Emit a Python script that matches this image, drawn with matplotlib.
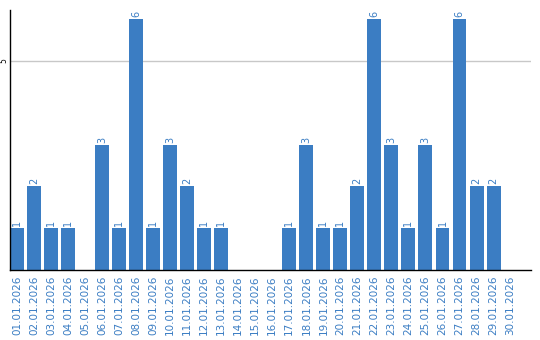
import numpy as np
import matplotlib.pyplot as plt

dates = ['%02d.01.2026' % d for d in range(1, 31)]
counts = [1, 2, 1, 1, 0, 3, 1, 6, 1, 3, 2, 1, 1, 0, 0,
          0, 1, 3, 1, 1, 2, 6, 3, 1, 3, 1, 6, 2, 2, 0]

blue = '#3b7dc3'

fig = plt.figure(figsize=(5.4, 3.4), dpi=100)
ax = fig.add_axes([10 / 540, 70 / 340, 521 / 540, 260 / 340])

x = np.arange(len(dates))
ax.bar(x, counts, width=0.82, color=blue, zorder=2)
for xi, c in zip(x, counts):
    if c > 0:
        ax.text(xi, c + 0.05, str(c), rotation=90, ha='center', va='bottom',
                fontsize=7, color=blue)

ax.set_xlim(-0.41, 30.2)
ax.set_ylim(0, 6.22)
ax.set_yticks([5])
ax.yaxis.grid(True, color='#c8c8c8', linewidth=1, zorder=0)
ax.tick_params(axis='y', length=0, pad=1, labelsize=5.5)
for lbl in ax.get_yticklabels():
    lbl.set_rotation(90)
    lbl.set_va('center')

ax.set_xticks(x)
ax.set_xticklabels(dates, rotation=90, fontsize=7.5, color=blue)
ax.tick_params(axis='x', length=0, pad=4)

for s in ['top', 'right']:
    ax.spines[s].set_visible(False)
ax.spines['left'].set_linewidth(1)
ax.spines['bottom'].set_linewidth(1)

fig.savefig('out.png', dpi=100)
